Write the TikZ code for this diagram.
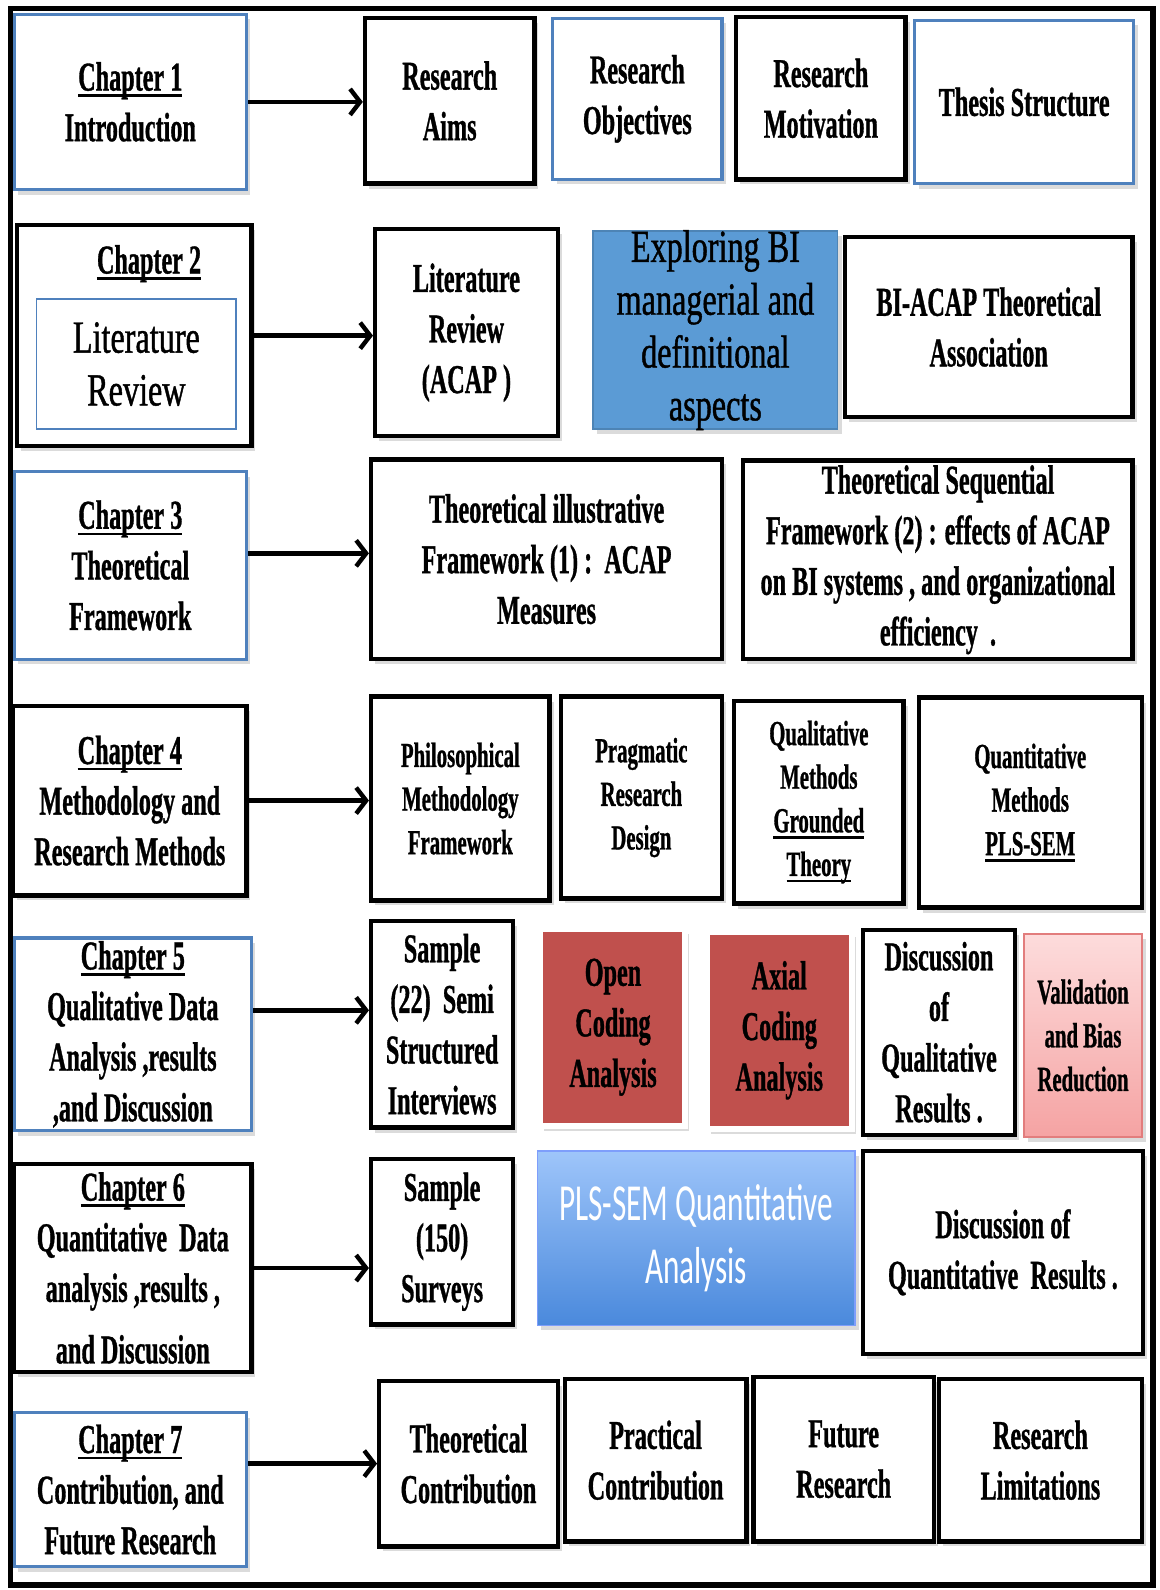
\documentclass[tikz,border=0pt]{standalone}
\usepackage{fontspec}
\newfontfamily\cnd{Liberation Serif}[FakeStretch=0.59, BoldFeatures={FakeBold=0.8}]
\newfontfamily\gar{Liberation Serif}[FakeStretch=0.70, FakeBold=0.9]
\newfontfamily\calfont{Carlito}[FakeStretch=0.60]
\usetikzlibrary{fit,shadows,arrows.meta}
\definecolor{obl}{HTML}{4F81BD}
\definecolor{expblue}{HTML}{5B9BD5}
\definecolor{cred}{HTML}{C0504D}
\definecolor{pinktop}{HTML}{FDDCDC}
\definecolor{pinkbot}{HTML}{F5A3A3}
\definecolor{pinkline}{HTML}{E27D7D}
\definecolor{plstop}{HTML}{9EC5FA}
\definecolor{plsbot}{HTML}{4A89DC}
\newcommand\ulx[1]{\setbox0\hbox{#1}\rlap{\rule[-3.2pt]{\wd0}{1.3pt}}\box0}
\tikzset{
  base/.style={inner sep=0pt,
    drop shadow={opacity=0.28, shadow xshift=2pt, shadow yshift=-2.5pt}},
  bk/.style={base, draw=black, line width=2.2pt, fill=white},
  bl/.style={base, draw=obl, line width=1.6pt, fill=white},
  redbox/.style={base, draw=white, line width=3pt, fill=cred},
  pinkbox/.style={base, draw=pinkline, line width=1pt, top color=pinktop, bottom color=pinkbot},
  plsbox/.style={base, draw=plstop!80!blue, line width=0.8pt, top color=plstop, bottom color=plsbot},
  expbox/.style={base, draw=expblue!85!black, line width=0.8pt, fill=expblue},
  innerbox/.style={draw=obl, line width=0.8pt, fill=white, inner sep=0pt},
  txt/.style={inner sep=0pt, align=center, font=\cnd\bfseries\fontsize{20.5}{25.3}\selectfont},
  sm/.style={font=\cnd\bfseries\fontsize{17.6}{21.8}\selectfont},
  gartext/.style={font=\gar\fontsize{23}{26.4}\selectfont},
  plstext/.style={text=white, font=\calfont\fontsize{26}{31.4}\selectfont},
  arr/.style={line width=2.2pt, -{Straight Barb[length=5pt,width=13pt,line width=2.2pt]}},
}
% box with its text: style, name, corner, corner, text style, text
\newcommand\bx[6]{%
  \node[#1, fit={(#3) (#4)}] (#2) {};
  \node[txt, #5] (#2t) at (#2) {#6};}
\begin{document}
\begin{tikzpicture}[x=0.507pt, y=-0.507pt]
\useasboundingbox[fill=white] (0,0) rectangle (1143,1568);

% Row 1
\bx{bl}{ch1}{14,14}{243,187}{}{\ulx{Chapter 1}\\Introduction}
\bx{bk}{aims}{360,18}{527,181}{}{Research\\Aims}
\bx{bl}{obj}{545,18}{712,177}{}{Research\\Objectives}
\bx{bk}{mot}{726,17}{893,177}{}{Research\\Motivation}
\bx{bl}{thesis}{902,20}{1118,181}{}{Thesis Structure}

% Row 2
\node[bk, fit={(17,222) (248,440)}] (ch2) {};
\node[txt] (ch2t) at (147,260) {\ulx{Chapter 2}};
\bx{innerbox}{ch2in}{36,295}{233,423}{gartext}{Literature\\Review}
\bx{bk}{lit}{370,226}{550,430}{}{Literature\\Review\\(ACAP )}
\bx{expbox}{expl}{585,228}{826,423}{gartext}{Exploring BI\\managerial and\\definitional\\aspects}
\bx{bk}{biacap}{833,234}{1117,411}{}{BI-ACAP Theoretical\\Association}

% Row 3
\bx{bl}{ch3}{14,465}{243,650}{}{\ulx{Chapter 3}\\Theoretical\\Framework}
\bx{bk}{tif}{366,453}{712,650}{}{Theoretical illustrative\\Framework (1) :\ \ ACAP\\Measures}
\bx{bk}{tsf}{733,454}{1117,650}{}{Theoretical Sequential\\Framework (2) : effects of ACAP\\on BI systems , and organizational\\efficiency\ \ .}

% Row 4
\bx{bk}{ch4}{13,696}{243,883}{}{\ulx{Chapter 4}\\Methodology and\\Research Methods}
\bx{bk}{phil}{366,687}{542,888}{sm}{Philosophical\\Methodology\\Framework}
\bx{bk}{prag}{553,687}{712,886}{sm}{Pragmatic\\Research\\Design}
\bx{bk}{qual}{724,691}{891,891}{sm}{Qualitative\\Methods\\\ulx{Grounded}\\\ulx{Theory}}
\bx{bk}{quant}{906,688}{1126,895}{sm}{Quantitative\\Methods\\\ulx{PLS-SEM}}

% Row 5
\bx{bl}{ch5}{14,925}{248,1115}{}{\ulx{Chapter 5}\\Qualitative Data\\Analysis ,results\\,and Discussion}
\bx{bk}{s22}{366,908}{506,1112}{}{Sample\\(22)\ \ Semi\\Structured\\Interviews}
\bx{redbox}{open}{533,916}{676,1110}{}{Open\\Coding\\Analysis}
\bx{redbox}{axial}{697,919}{840,1113}{}{Axial\\Coding\\Analysis}
\bx{bk}{dql}{851,917}{1001,1119}{}{Discussion\\of\\Qualitative\\Results .}
\bx{pinkbox}{val}{1010,921}{1126,1121}{sm}{Validation\\and Bias\\Reduction}

% Row 6
\bx{bk}{ch6}{14,1148}{248,1353}{}{\ulx{Chapter 6}\\Quantitative\ \ Data\\analysis ,results ,\\[5.5pt]and Discussion}
\bx{bk}{s150}{366,1143}{506,1306}{}{Sample\\(150)\\Surveys}
\bx{plsbox}{pls}{530,1135}{843,1307}{plstext}{PLS-SEM Quantitative\\Analysis}
\bx{bk}{dqt}{851,1135}{1127,1335}{}{Discussion of\\Quantitative\ \ Results .}

% Row 7
\bx{bl}{ch7}{14,1393}{243,1545}{}{\ulx{Chapter 7}\\Contribution, and\\Future Research}
\bx{bk}{tc}{374,1362}{550,1525}{}{Theoretical\\Contribution}
\bx{bk}{pc}{557,1360}{736,1520}{}{Practical\\Contribution}
\bx{bk}{fr}{743,1358}{921,1520}{}{Future\\Research}
\bx{bk}{rl}{926,1360}{1126,1520}{}{Research\\Limitations}

% Arrows
\draw[arr] (ch1.east) -- (ch1.east -| aims.west);
\draw[arr] (ch2.east) -- (ch2.east -| lit.west);
\draw[arr] ([yshift=6pt]ch3.east) -- ([yshift=6pt]ch3.east -| tif.west);
\draw[arr] (ch4.east) -- (ch4.east -| phil.west);
\draw[arr] ([yshift=12pt]ch5.east) -- ([yshift=12pt]ch5.east -| s22.west);
\draw[arr] (ch6.east) -- (ch6.east -| s150.west);
\draw[arr] ([yshift=13pt]ch7.east) -- ([yshift=13pt]ch7.east -| tc.west);

% Outer frame
\draw[line width=2.6pt] (10,8) rectangle (1137,1563);
\end{tikzpicture}
\end{document}
